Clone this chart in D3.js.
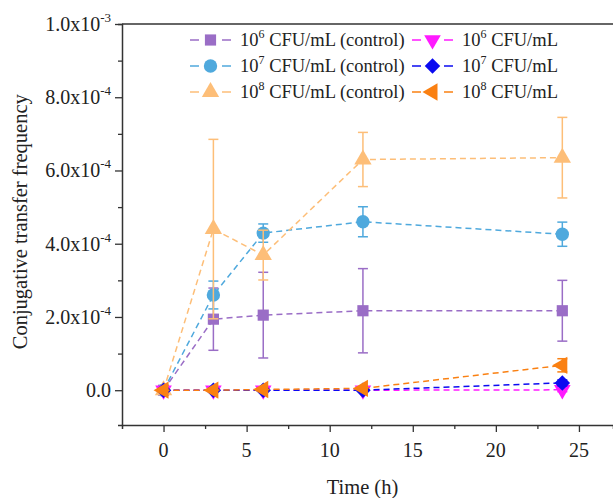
<!DOCTYPE html>
<html lang="en">
<head>
<meta charset="UTF-8">
<title>Conjugative transfer frequency</title>
<script src="https://d3js.org/d3.v7.min.js"></script>
<style>
  body { margin: 0; background: #fff; }
</style>
</head>
<body>
<svg width="613" height="498" font-family="Liberation Serif, Times New Roman, serif"></svg>
<script>
// time points (h)
const times = [0, 3, 6, 12, 24];

// series values and standard deviations
const ctrl6 = [0, 1.94e-4, 2.05e-4, 2.17e-4, 2.17e-4];
const ctrl6Err = [0, 0.85e-4, 1.17e-4, 1.15e-4, 0.83e-4];
const ctrl7 = [0, 2.6e-4, 4.29e-4, 4.6e-4, 4.26e-4];
const ctrl7Err = [0, 0.38e-4, 0.25e-4, 0.41e-4, 0.33e-4];
const ctrl8 = [0, 4.4e-4, 3.69e-4, 6.3e-4, 6.35e-4];
const ctrl8Err = [0, 2.45e-4, 0.68e-4, 0.74e-4, 1.1e-4];
const exp6 = [0, 0, 0, 0, 0.01e-4];
const exp6Err = [0, 0, 0, 0, 0.05e-4];
const exp7 = [0, 0, 0, 0, 0.2e-4];
const exp7Err = [0, 0, 0, 0, 0.08e-4];
const exp8 = [0, 0, 0.02e-4, 0.05e-4, 0.68e-4];
const exp8Err = [0, 0, 0, 0.02e-4, 0.18e-4];

const yTicks = [0, 2e-4, 4e-4, 6e-4, 8e-4, 1e-3];
const yTickLabels = ["0.0", "2.0x10|-4", "4.0x10|-4", "6.0x10|-4", "8.0x10|-4", "1.0x10|-3"];
const xTicks = [0, 5, 10, 15, 20, 25];

const series = [
  { exp: "6", label: " CFU/mL (control)", values: ctrl6, err: ctrl6Err, color: "#9a6dc6", shape: d3.symbolSquare, rot: 0, size: 125 },
  { exp: "7", label: " CFU/mL (control)", values: ctrl7, err: ctrl7Err, color: "#4fa9dd", shape: d3.symbolCircle, rot: 0, size: 140 },
  { exp: "8", label: " CFU/mL (control)", values: ctrl8, err: ctrl8Err, color: "#fdbe78", shape: d3.symbolTriangle, rot: 0, size: 130 },
  { exp: "6", label: " CFU/mL", values: exp6, err: exp6Err, color: "#ff1aff", shape: d3.symbolTriangle, rot: 180, size: 120 },
  { exp: "7", label: " CFU/mL", values: exp7, err: exp7Err, color: "#0a0af0", shape: d3.symbolSquare, rot: 45, size: 120 },
  { exp: "8", label: " CFU/mL", values: exp8, err: exp8Err, color: "#fa8012", shape: d3.symbolTriangle, rot: -90, size: 130 }
];

const svg = d3.select("svg");
const plotLeft = 122, plotTop = 24, plotRight = 613, plotBottom = 425;

const x = d3.scaleLinear().domain([-2.5, 27.05]).range([plotLeft, plotRight]);
const y = d3.scaleLinear().domain([-0.95e-4, 1e-3]).range([plotBottom, plotTop]);

// frame
svg.append("line").attr("x1", plotLeft).attr("x2", plotRight).attr("y1", plotTop).attr("y2", plotTop)
  .attr("stroke", "#333").attr("stroke-width", 1.5);

// x axis
const xAxis = svg.append("g").attr("transform", `translate(0,${plotBottom})`);
xAxis.call(d3.axisBottom(x).tickValues(d3.range(-2.5, 27.5, 2.5)).tickSize(4).tickFormat(""));
xAxis.attr("font-family", null);
xAxis.call(g => g.selectAll(".tick").filter(d => xTicks.includes(d)).select("line").attr("y2", 7));
xAxis.call(g => g.selectAll(".tick").filter(d => d === -2.5).remove());
xAxis.select(".domain").attr("stroke", "#333").attr("stroke-width", 1.5);
xAxis.selectAll(".tick line").attr("stroke", "#333").attr("stroke-width", 1.3);
xAxis.selectAll(".tl").data(xTicks).join("text")
  .attr("x", d => x(d)).attr("y", 32).attr("text-anchor", "middle")
  .attr("font-size", 20).attr("fill", "#222").text(d => d);

// y axis
const yAxis = svg.append("g").attr("transform", `translate(${plotLeft},0)`);
yAxis.call(d3.axisLeft(y).tickValues(d3.range(0, 1.0001e-3, 1e-4)).tickSize(4).tickFormat(""));
yAxis.attr("font-family", null);
yAxis.call(g => g.selectAll(".tick").filter(d => yTicks.some(t => Math.abs(t - d) < 1e-9)).select("line").attr("x2", -7));
yAxis.select(".domain").attr("stroke", "#333").attr("stroke-width", 1.5);
yAxis.selectAll(".tick line").attr("stroke", "#333").attr("stroke-width", 1.3);
yTicks.forEach((t, i) => {
  const parts = yTickLabels[i].split("|");
  const txt = yAxis.append("text").attr("x", -11).attr("y", y(t) + 7)
    .attr("text-anchor", "end").attr("font-size", 20).attr("fill", "#222");
  txt.append("tspan").text(parts[0]);
  if (parts[1]) txt.append("tspan").attr("dy", -9).attr("font-size", 13).text(parts[1]);
});

// axis titles
svg.append("text").attr("x", (plotLeft + plotRight) / 2 - 5).attr("y", 494).attr("text-anchor", "middle")
  .attr("font-size", 20.5).attr("fill", "#222").text("Time (h)");
svg.append("text").attr("transform", `translate(27,${y(4.6e-4)}) rotate(-90)`)
  .attr("text-anchor", "middle").attr("font-size", 20.5).attr("fill", "#222").text("Conjugative transfer frequency");

// series
const line = d3.line().x(d => x(d[0])).y(d => y(d[1]));
series.forEach(s => {
  const pts = times.map((t, i) => [t, s.values[i], s.err[i]]);
  const g = svg.append("g");
  g.append("path").attr("d", line(pts)).attr("fill", "none").attr("stroke", s.color)
    .attr("stroke-width", 1.5).attr("stroke-dasharray", "6,4");
  pts.filter(p => p[2] > 0).forEach(p => {
    const eg = g.append("g").attr("stroke", s.color).attr("stroke-width", 1.5);
    eg.append("line").attr("x1", x(p[0])).attr("x2", x(p[0]))
      .attr("y1", y(p[1] - p[2])).attr("y2", y(p[1] + p[2]));
    [p[1] - p[2], p[1] + p[2]].forEach(v => {
      eg.append("line").attr("x1", x(p[0]) - 5).attr("x2", x(p[0]) + 5)
        .attr("y1", y(v)).attr("y2", y(v));
    });
  });
  g.selectAll(".m").data(pts).join("path")
    .attr("d", d3.symbol().type(s.shape).size(s.size)())
    .attr("transform", d => `translate(${x(d[0])},${y(d[1])}) rotate(${s.rot})`)
    .attr("fill", s.color);
});

// legend
const legend = svg.append("g");
series.forEach((s, i) => {
  const col = Math.floor(i / 3), row = i % 3;
  const lx = col === 0 ? 190 : 412;
  const ly = 40 + row * 26;
  const lg = legend.append("g").attr("transform", `translate(${lx},${ly})`);
  lg.append("line").attr("x1", 0).attr("x2", 9).attr("stroke", s.color).attr("stroke-width", 1.5);
  lg.append("line").attr("x1", 32).attr("x2", 41).attr("stroke", s.color).attr("stroke-width", 1.5);
  lg.append("path").attr("d", d3.symbol().type(s.shape).size(s.size)())
    .attr("transform", `translate(20.5,0) rotate(${s.rot})`).attr("fill", s.color);
  const t = lg.append("text").attr("x", 50).attr("y", 6).attr("font-size", 18.5).attr("fill", "#222");
  t.append("tspan").text("10");
  t.append("tspan").attr("dy", -8).attr("font-size", 12).text(s.exp);
  t.append("tspan").attr("dy", 8).text(s.label);
});
</script>
</body>
</html>
